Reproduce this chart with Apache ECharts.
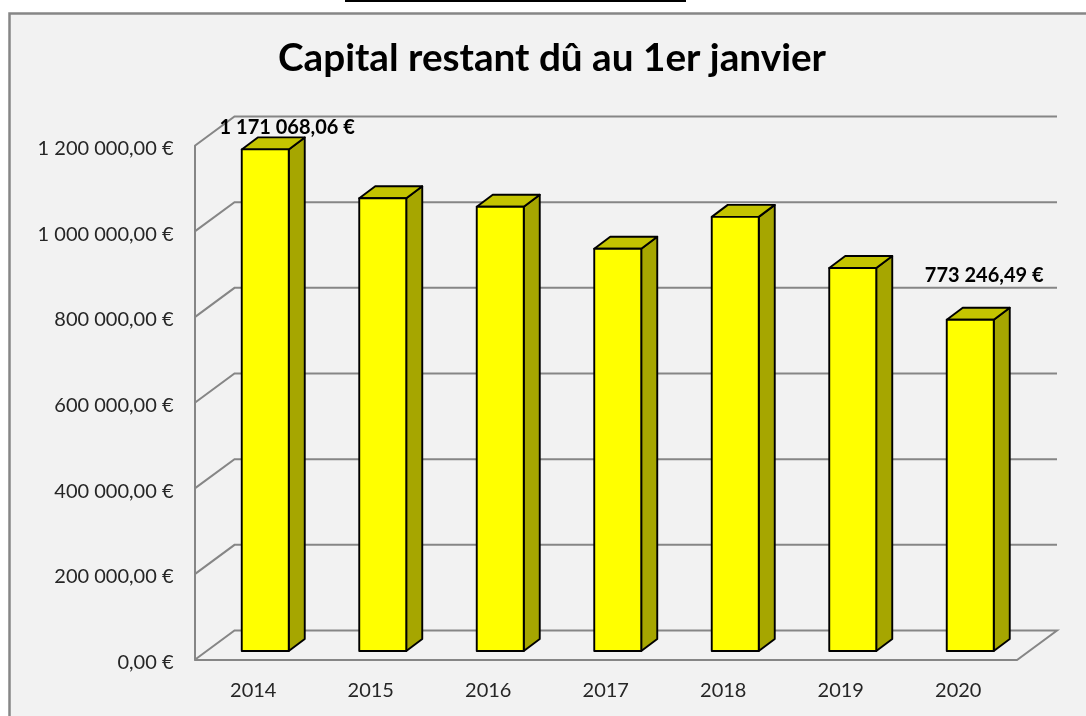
<!DOCTYPE html>
<html>
<head>
<meta charset="utf-8">
<title>Capital restant dû</title>
<script src="https://cdn.jsdelivr.net/npm/echarts@6/dist/echarts.min.js"></script>
<style>
html, body { margin: 0; padding: 0; background: #fff; }
#chart { width: 1086px; height: 716px; }
</style>
</head>
<body>
<div id="chart"></div>
<script>
var titleText = 'Capital restant dû au 1er janvier';
var years = ['2014', '2015', '2016', '2017', '2018', '2019', '2020'];
var capital = [1171068.06, 1057000, 1037000, 939000, 1013500, 894000, 773246.49];
var yTicks = [0, 200000, 400000, 600000, 800000, 1000000, 1200000];
var labelledYears = ['2014', '2020'];

var FONT = 'Lato, "Noto Sans", sans-serif';
// profondeur du "faux 3D" excel
var WALL_DX = 40, WALL_DY = -29.5;
var BAR_DX = 12, BAR_DY = -9;
var SIDE_DX = 16, SIDE_DY = -12;
var BAR_RATIO = 0.4;

function euro(v) {
    // 1200000 -> 1 200 000,00 €
    var parts = v.toFixed(2).split('.');
    return parts[0].replace(/\B(?=(\d{3})+$)/g, ' ') + ',' + parts[1] + ' €';
}

function renderWall(params, api) {
    var v = api.value(0);
    var rect = params.coordSys;
    var y = api.coord([0, v])[1];
    var x0 = rect.x, x1 = rect.x + rect.width;
    var style = { stroke: '#868686', lineWidth: 2, fill: null };
    var pts = [[x0, y], [x0 + WALL_DX, y + WALL_DY], [x1 + WALL_DX, y + WALL_DY]];
    if (v === 0) {
        // le sol est ferme
        pts.push([x1, y], [x0, y]);
    }
    return { type: 'polyline', shape: { points: pts }, style: style };
}

function renderBar(params, api) {
    var c = api.coord([api.value(0), api.value(1)]);
    var base = api.coord([api.value(0), 0]);
    var w = api.size([1, 0])[0] * BAR_RATIO;
    var l = c[0] - w / 2 + BAR_DX, r = l + w;
    var t = c[1] + BAR_DY, b = base[1] + BAR_DY;
    var line = { stroke: '#000', lineWidth: 1.9, lineJoin: 'round' };
    var children = [
        { type: 'polygon', shape: { points: [[r, t], [r + SIDE_DX, t + SIDE_DY], [r + SIDE_DX, b + SIDE_DY], [r, b]] },
          style: Object.assign({ fill: '#a6a600' }, line) },
        { type: 'polygon', shape: { points: [[l, t], [l + SIDE_DX, t + SIDE_DY], [r + SIDE_DX, t + SIDE_DY], [r, t]] },
          style: Object.assign({ fill: '#c4c400' }, line) },
        { type: 'rect', shape: { x: l, y: t, width: w, height: b - t },
          style: Object.assign({ fill: '#ffff00' }, line) }
    ];
    return { type: 'group', children: children };
}

function renderLabel(params, api) {
    var year = years[api.value(0)];
    if (labelledYears.indexOf(year) < 0) return null;
    var c = api.coord([api.value(0), api.value(1)]);
    // positions des etiquettes
    var first = year === labelledYears[0];
    return {
        type: 'text',
        x: c[0] + (first ? 34 : 26),
        y: c[1] + (first ? -31 : -53),
        style: {
            text: euro(api.value(1)),
            fill: '#000',
            font: 'bold 20px ' + FONT,
            textAlign: 'center',
            textVerticalAlign: 'middle'
        }
    };
}

var chart = echarts.init(document.getElementById('chart'), null, { renderer: 'canvas' });

chart.setOption({
    animation: false,
    backgroundColor: '#ffffff',
    title: {
        text: titleText,
        left: 547,
        top: 34,
        textAlign: 'center',
        textStyle: { fontFamily: FONT, fontWeight: 'bold', fontSize: 38.7, color: '#000' }
    },
    graphic: [
        { type: 'rect', z: -10, shape: { x: 9.5, y: 13.5, width: 1200, height: 800 },
          style: { fill: '#f2f2f2', stroke: '#868686', lineWidth: 2.5 } },
        { type: 'rect', z: -10, shape: { x: 345, y: 0, width: 341, height: 2 }, style: { fill: '#000' } }
    ],
    grid: { left: 194.5, right: 69, top: 146, bottom: 56 },
    xAxis: {
        type: 'category',
        data: years,
        axisLine: { show: false },
        axisTick: { show: false },
        axisLabel: { color: '#262626', fontFamily: FONT, fontSize: 20, margin: 21 }
    },
    yAxis: {
        type: 'value',
        min: 0,
        max: 1200000,
        interval: 200000,
        axisLine: { show: true, lineStyle: { color: '#868686', width: 2 } },
        axisTick: { show: false },
        splitLine: { show: false },
        axisLabel: {
            color: '#262626',
            fontFamily: FONT,
            fontSize: 20,
            margin: 21,
            // lineHeight reduit pour descendre le texte de 2-3 px sous le trait
            verticalAlign: 'top',
            lineHeight: 5,
            formatter: function (v) { return euro(v); }
        }
    },
    series: [
        { type: 'custom', name: 'parois', coordinateSystem: 'cartesian2d', z: 1, silent: true,
          renderItem: renderWall, data: yTicks.map(function (v) { return [v]; }),
          encode: { y: 0 } },
        { type: 'custom', name: 'capital', coordinateSystem: 'cartesian2d', z: 2,
          renderItem: renderBar, data: capital.map(function (v, i) { return [i, v]; }),
          encode: { x: 0, y: 1 } },
        { type: 'custom', name: 'etiquettes', coordinateSystem: 'cartesian2d', z: 3, silent: true,
          renderItem: renderLabel, data: capital.map(function (v, i) { return [i, v]; }),
          encode: { x: 0, y: 1 } }
    ]
});
</script>
</body>
</html>
